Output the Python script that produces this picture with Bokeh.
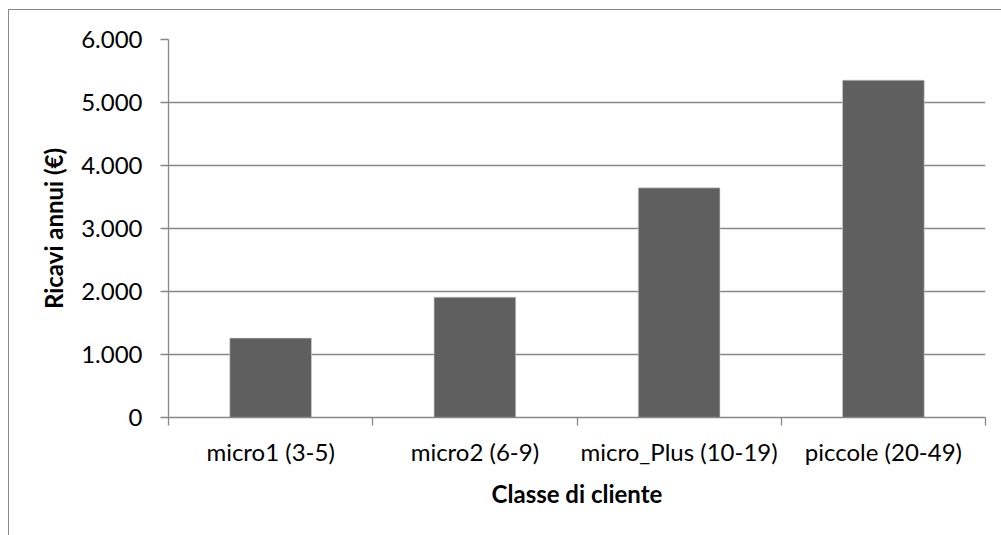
from bokeh.plotting import figure
from bokeh.models import FixedTicker, Range1d, ColumnDataSource
from bokeh.embed import file_html
from bokeh.resources import INLINE

# Revenue per customer class
categories = ["micro1 (3-5)", "micro2 (6-9)", "micro_Plus (10-19)", "piccole (20-49)"]
revenues = [1260, 1910, 3645, 5355]
y_ticks = [0, 1000, 2000, 3000, 4000, 5000, 6000]
y_tick_labels = ["0", "1.000", "2.000", "3.000", "4.000", "5.000", "6.000"]

FONT = "Lato"
GRID = "#878787"
BAR = "#5f5f5f"

centers = [i + 0.5 for i in range(len(categories))]
bounds = list(range(len(categories) + 1))

src = ColumnDataSource(dict(x=centers, top=revenues, cat=categories))

p = figure(
    width=993, height=526,
    output_backend="svg", toolbar_location=None,
    x_range=Range1d(0, len(categories)),
    y_range=Range1d(0, 6000),
    min_border_left=159, min_border_right=17,
    min_border_top=29, min_border_bottom=119,
)
p.margin = (9, 0, 0, 8)
p.styles = {"border-left": "1px solid #8a8a8a", "border-top": "1px solid #8a8a8a"}
p.outline_line_color = None
p.background_fill_color = "white"
p.border_fill_color = "white"

p.vbar(x="x", top="top", bottom=0, width=0.4, source=src,
       fill_color=BAR, line_color="#d0d0d0", line_width=0.6)

# y axis
p.yaxis.ticker = FixedTicker(ticks=y_ticks)
p.yaxis.major_label_overrides = {t: l for t, l in zip(y_ticks, y_tick_labels)}
p.yaxis.minor_tick_line_color = None
p.yaxis.major_tick_in = 0
p.yaxis.major_tick_out = 8
p.yaxis.major_tick_line_color = GRID
p.yaxis.major_tick_line_width = 1.3
p.yaxis.axis_line_color = GRID
p.yaxis.axis_line_width = 1.3
p.yaxis.major_label_text_font = FONT
p.yaxis.major_label_text_font_size = "24px"
p.yaxis.major_label_text_color = "black"
p.yaxis.major_label_standoff = 18
p.yaxis.axis_label = "Ricavi annui (€)"
p.yaxis.axis_label_text_font = FONT
p.yaxis.axis_label_text_font_size = "24px"
p.yaxis.axis_label_text_font_style = "bold"
p.yaxis.axis_label_text_color = "black"
p.yaxis.axis_label_standoff = 10

# x axis: category names at centers, tick marks at boundaries
p.xaxis.ticker = FixedTicker(ticks=centers, minor_ticks=bounds)
p.xaxis.major_label_overrides = {c: n for c, n in zip(centers, categories)}
p.xaxis.major_tick_line_color = None
p.xaxis.major_tick_out = 0
p.xaxis.major_tick_in = 0
p.xaxis.minor_tick_line_color = GRID
p.xaxis.minor_tick_line_width = 1.3
p.xaxis.minor_tick_in = 0
p.xaxis.minor_tick_out = 8
p.xaxis.axis_line_color = GRID
p.xaxis.axis_line_width = 1.3
p.xaxis.major_label_text_font = FONT
p.xaxis.major_label_text_font_size = "24px"
p.xaxis.major_label_text_color = "black"
p.xaxis.major_label_standoff = 11
p.xaxis.axis_label = "Classe di cliente"
p.xaxis.axis_label_text_font = FONT
p.xaxis.axis_label_text_font_size = "24px"
p.xaxis.axis_label_text_font_style = "bold"
p.xaxis.axis_label_text_color = "black"
p.xaxis.axis_label_standoff = 10

p.xgrid.grid_line_color = None
p.ygrid.grid_line_color = GRID
p.ygrid.grid_line_width = 1.3
p.ygrid.level = "underlay"

open("out.html", "w").write(file_html(p, INLINE))
